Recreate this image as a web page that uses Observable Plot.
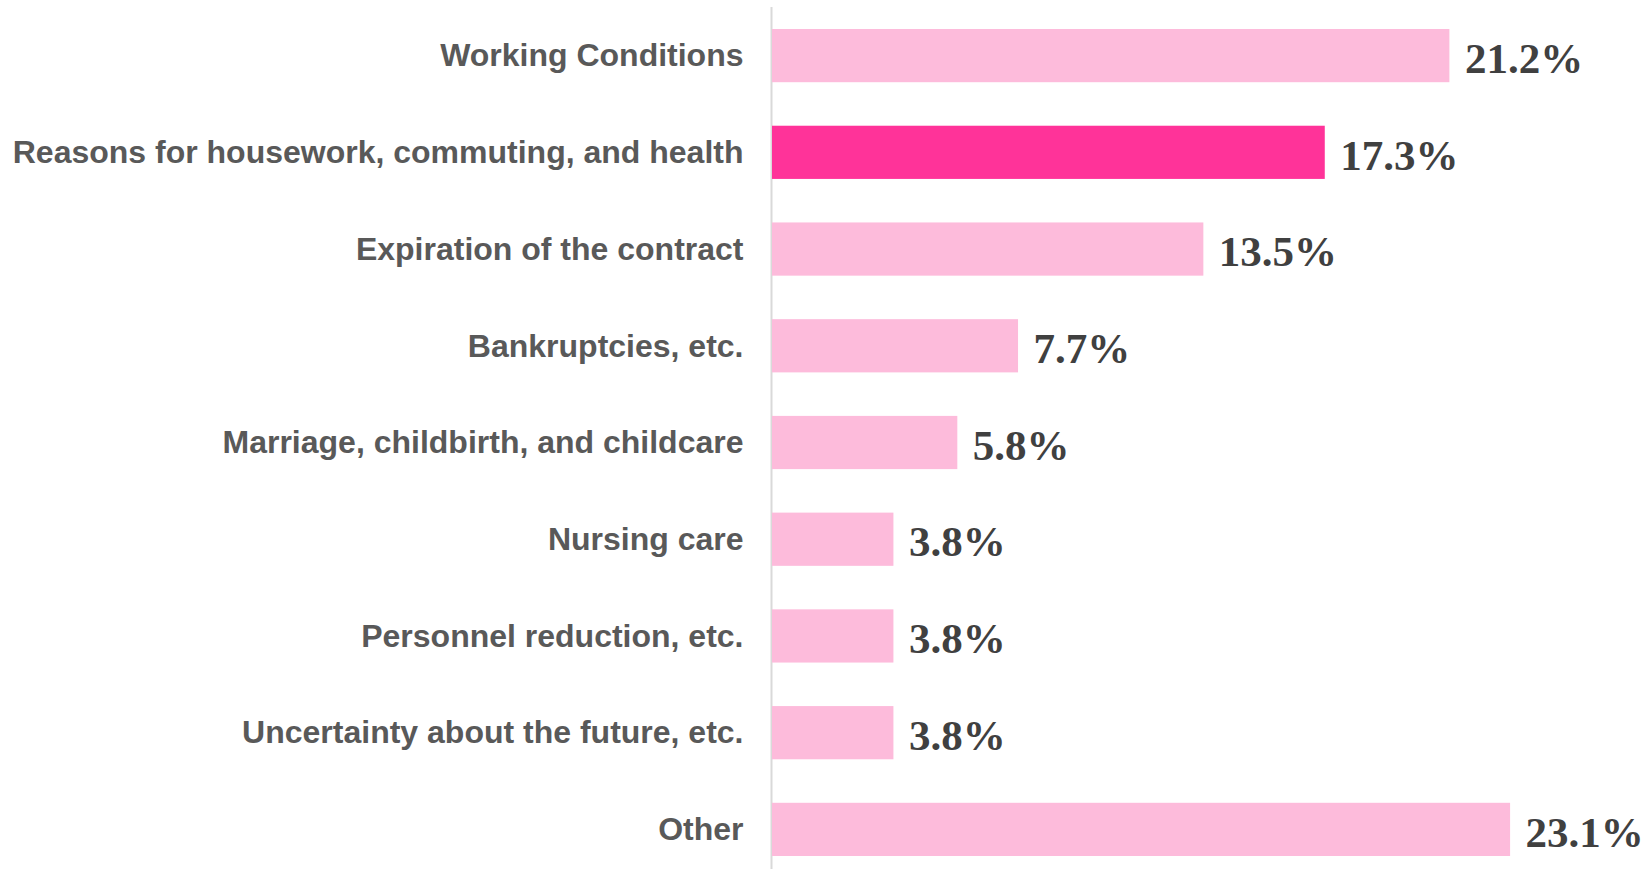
<!DOCTYPE html>
<html>
<head>
<meta charset="utf-8">
<script src="https://cdn.jsdelivr.net/npm/d3@7"></script>
<script src="https://cdn.jsdelivr.net/npm/@observablehq/plot@0.6"></script>
<style>
  html, body { margin: 0; padding: 0; background: #ffffff; }
  #chart svg { display: block; }
</style>
</head>
<body>
<div id="chart"></div>
<script>
const categories = [
  "Working Conditions",
  "Reasons for housework, commuting, and health",
  "Expiration of the contract",
  "Bankruptcies, etc.",
  "Marriage, childbirth, and childcare",
  "Nursing care",
  "Personnel reduction, etc.",
  "Uncertainty about the future, etc.",
  "Other"
];
const values = [21.2, 17.3, 13.5, 7.7, 5.8, 3.8, 3.8, 3.8, 23.1];
const highlighted = "Reasons for housework, commuting, and health";

const data = categories.map((c, i) => ({category: c, value: values[i]}));

const chart = Plot.plot({
  width: 1651,
  height: 869,
  marginLeft: 772,
  marginRight: 0,
  marginTop: 7,
  marginBottom: 0,
  style: {background: "#ffffff"},
  x: {domain: [0, 27.51], axis: null},
  y: {domain: categories, range: [29, 856], paddingInner: 0.45, paddingOuter: 0, round: false, axis: null},
  marks: [
    Plot.ruleX([0], {stroke: "#d9d9d9", strokeWidth: 2, dx: -1}),
    Plot.barX(data, {
      x: "value",
      y: "category",
      fill: d => d.category === highlighted ? "#ff3399" : "#fdbbdb"
    }),
    Plot.text(data, {
      x: 0,
      y: "category",
      text: "category",
      textAnchor: "end",
      dx: -29,
      dy: 0,
      fontSize: 32,
      fontWeight: "bold",
      fontFamily: "'Liberation Sans', Arial, sans-serif",
      fill: "#595959"
    }),
    Plot.text(data, {
      x: "value",
      y: "category",
      text: d => d.value.toFixed(1) + "%",
      textAnchor: "start",
      dx: 15,
      dy: 3,
      fontSize: 43,
      fontWeight: "bold",
      fontFamily: "'Liberation Serif', 'Times New Roman', serif",
      fill: "#404040"
    })
  ]
});
document.getElementById("chart").appendChild(chart);
</script>
</body>
</html>
